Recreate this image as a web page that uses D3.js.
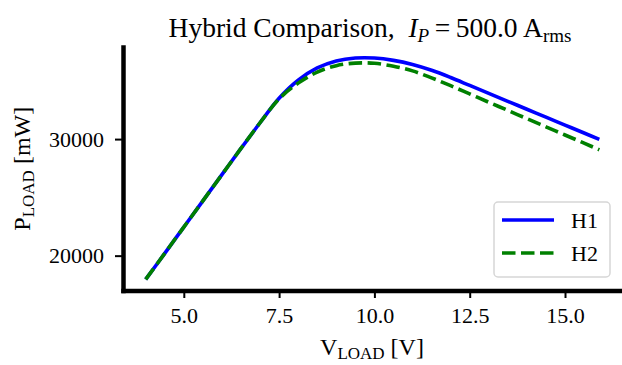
<!DOCTYPE html>
<html>
<head>
<meta charset="utf-8">
<script src="https://cdn.jsdelivr.net/npm/d3@7"></script>
<style>
  html, body { margin: 0; padding: 0; background: #fff; }
  svg { display: block; }
  text { font-family: "Liberation Serif", "Times New Roman", serif; fill: #000; white-space: pre; }
</style>
</head>
<body>
<svg id="chart" width="622" height="365"></svg>
<script>
// ---- data ----
const voltage = [4.0, 4.5, 5.0, 5.5, 6.0, 6.5, 7.0, 7.5, 8.0, 8.5, 9.0, 9.5, 10.0, 10.5, 11.0, 11.5, 12.0, 12.5, 13.0, 13.5, 14.0, 14.5, 15.0, 15.5, 15.9];
const powerH1 = [17960, 20200, 22450, 24700, 26950, 29200, 31400, 33500, 35050, 36100, 36700, 36950, 36950, 36750, 36400, 35900, 35280, 34600, 33920, 33240, 32560, 31880, 31200, 30520, 29980];
const powerH2 = [17960, 20200, 22450, 24700, 26950, 29200, 31400, 33450, 34800, 35750, 36300, 36520, 36500, 36250, 35850, 35250, 34580, 33870, 33160, 32460, 31750, 31050, 30350, 29650, 29080];
const seriesNames = ["H1", "H2"];
const seriesColors = ["#0000ff", "#008000"];
const xTicks = [5.0, 7.5, 10.0, 12.5, 15.0];
const yTicks = [20000, 30000];

const svg = d3.select("#chart");
const mLeft = 123, mRight = 622, mTop = 47, mBottom = 290.5;

// matplotlib-like 5% margins
function padded(ext) { const d = ext[1] - ext[0]; return [ext[0] - 0.05 * d, ext[1] + 0.05 * d]; }
const xExt = padded(d3.extent(voltage));
const yExt = padded([d3.min(powerH1.concat(powerH2)), d3.max(powerH1.concat(powerH2))]);

const x = d3.scaleLinear().domain(xExt).range([mLeft, mRight]);
const y = d3.scaleLinear().domain(yExt).range([mBottom, mTop]);

// lines
const series = [powerH1, powerH2];
const line = d3.line().x(d => x(d[0])).y(d => y(d[1])).curve(d3.curveCatmullRom.alpha(0.5));
series.forEach((vals, i) => {
  svg.append("path")
    .datum(voltage.map((v, j) => [v, vals[j]]))
    .attr("d", line)
    .attr("fill", "none")
    .attr("stroke", seriesColors[i])
    .attr("stroke-width", 3.6)
    .attr("stroke-dasharray", i === 1 ? "13.5,5.5" : null);
});

// axes
const xAxis = d3.axisBottom(x).tickValues(xTicks).tickFormat(d3.format(".1f")).tickSizeInner(7.5).tickSizeOuter(0).tickPadding(9);
const yAxis = d3.axisLeft(y).tickValues(yTicks).tickFormat(d3.format("d")).tickSizeInner(8).tickSizeOuter(0).tickPadding(11);

const gx = svg.append("g").attr("transform", `translate(0,${mBottom})`).call(xAxis);
const gy = svg.append("g").attr("transform", `translate(${mLeft},0)`).call(yAxis);
[gx, gy].forEach(g => {
  g.select(".domain").attr("stroke", "#000").attr("stroke-width", 4.5).attr("stroke-linecap", "square");
  g.selectAll(".tick line").attr("stroke", "#000").attr("stroke-width", 2);
  g.selectAll(".tick text").attr("font-size", 22).attr("fill", "#000");
});

// title
const title = svg.append("text").attr("x", 370).attr("y", 37).attr("text-anchor", "middle").attr("font-size", 27.5);
title.append("tspan").text("Hybrid Comparison,\u00a0\u00a0");
title.append("tspan").attr("font-style", "italic").text("I");
title.append("tspan").attr("font-style", "italic").attr("font-size", 19).attr("dy", 5).text("P");
title.append("tspan").attr("dy", -5).text("\u2009=\u2009500.0\u2009A");
title.append("tspan").attr("font-size", 19).attr("dy", 5).text("rms");

// x label
const xl = svg.append("text").attr("x", 372).attr("y", 355).attr("text-anchor", "middle").attr("font-size", 24);
xl.append("tspan").text("V");
xl.append("tspan").attr("font-size", 17).attr("dy", 4).text("LOAD");
xl.append("tspan").attr("dy", -4).text("\u00a0[V]");

// y label
const yl = svg.append("text").attr("transform", `translate(30,${(mTop + mBottom) / 2}) rotate(-90)`).attr("text-anchor", "middle").attr("font-size", 24);
yl.append("tspan").text("P");
yl.append("tspan").attr("font-size", 17).attr("dy", 4).text("LOAD");
yl.append("tspan").attr("dy", -4).text("\u00a0[mW]");

// legend
const lg = svg.append("g");
lg.append("rect").attr("x", 494).attr("y", 202).attr("width", 116).attr("height", 75).attr("rx", 4)
  .attr("fill", "#fff").attr("fill-opacity", 0.8).attr("stroke", "#d6d6d6").attr("stroke-width", 1.5);
seriesNames.forEach((name, i) => {
  const yy = 220 + i * 33;
  lg.append("line").attr("x1", 502).attr("x2", 554).attr("y1", yy).attr("y2", yy)
    .attr("stroke", seriesColors[i]).attr("stroke-width", 3.6)
    .attr("stroke-dasharray", i === 1 ? "13.5,5.5" : null);
  lg.append("text").attr("x", 571).attr("y", yy + 8).attr("font-size", 22).text(name);
});
</script>
</body>
</html>
